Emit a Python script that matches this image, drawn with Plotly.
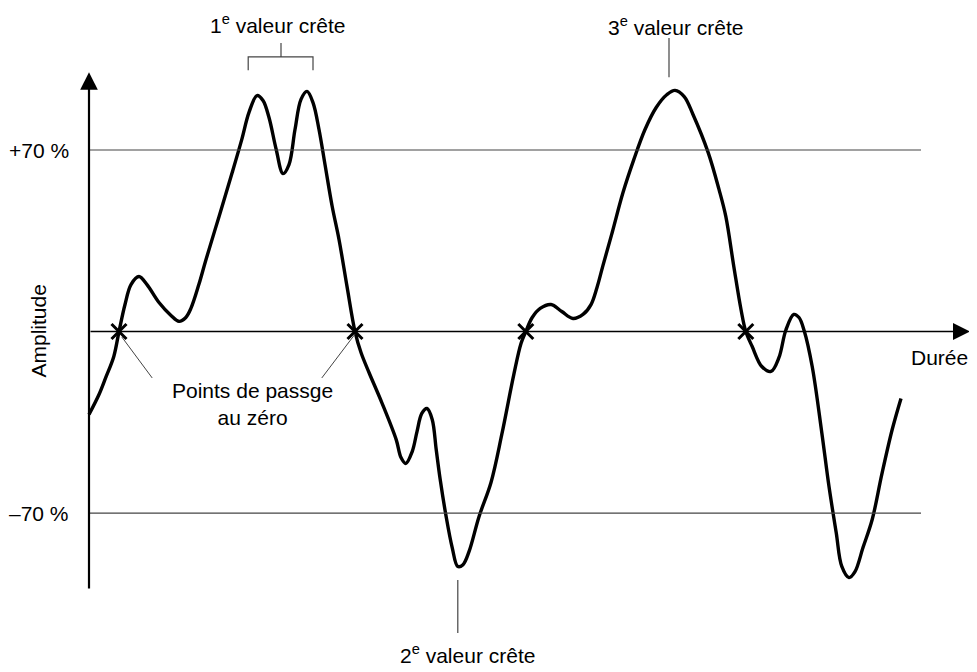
import plotly.graph_objects as go

# signal: time (arbitrary units) / amplitude (%)
duree = [0, 1.25, 2.1, 3.1, 3.75, 4.5, 5.25, 6.25, 7.25, 8.75,
         10.25, 11.25, 12.1, 12.75, 13.75, 14.6, 16.25, 17.9, 19.1, 20,
         21, 21.75, 22.5, 23.4, 24.25, 25, 25.75, 26.5, 27.25, 28,
         28.75, 29.5, 30.4, 31.25, 32.25, 33.25, 34, 35, 36.6, 38.4,
         39, 39.6, 40.4, 41, 41.6, 42.25, 42.9, 43.4, 43.9, 44.6,
         45.4, 46.1, 46.75, 47.5, 48.75, 50.25, 51.6, 53.1, 54, 54.6,
         55.4, 56.4, 57.75, 59.1, 60.5, 61.75, 62.75, 63.5, 64.25, 65.4,
         66.75, 68.1, 69.5, 70.9, 72.25, 73.25, 74.4, 75.5, 77.4, 78.75,
         79.6, 80.6, 81.5, 82.1, 82.9, 84.1, 85.25, 86.25, 87.1, 88.1,
         88.75, 89.4, 90.4, 91.6, 92.5, 93.4, 94.1, 95, 95.75, 96.75,
         97.9, 99.1, 100.4, 101.5]

amplitude = [-32.0, -24.3, -17.7, -9.6, 0, 10.4, 18.1, 21.2, 18.1, 11.2,
             6.2, 3.9, 5.4, 9.0, 18.3, 27.5, 44.3, 61.3, 74.1, 84.5,
             91.0, 89.1, 82.5, 70.2, 60.9, 64.4, 77.9, 89.5, 92.6, 88.3,
             77.9, 64.4, 48.2, 35.5, 17.4, 0, -8.1, -15.8, -27.4, -41.7,
             -48.6, -50.9, -46.3, -38.6, -31.6, -29.7, -33.9, -45.5, -57.1, -70.6,
             -83.3, -90.6, -89.9, -84.9, -71.4, -58.2, -39.7, -16.6, -4.6, 0,
             5.4, 8.9, 10.4, 7.7, 5.0, 6.6, 10.4, 17.0, 25.5, 38.2,
             53.6, 66.3, 77.9, 86.4, 91.4, 93.0, 90.6, 83.7, 69.0, 54.8,
             44.4, 25.1, 8.5, 0, -5.8, -13.5, -15.4, -10.0, 0.5, 6.6,
             5.4, 0.3, -13.5, -39.0, -59.8, -77.5, -90.6, -94.9, -92.6, -83.3,
             -72.5, -55.1, -37.8, -25.8]

# zero crossings marked with an x
passages_zero = [3.75, 33.25, 54.6, 82.1]

# threshold levels
seuils = [70, -70]
seuil_labels = ["+70 %", "\u201370 %"]

FONT = "Arial, Liberation Sans, sans-serif"
TXT = dict(family=FONT, size=21, color="black")
GREY = "#444444"

fig = go.Figure()

fig.add_trace(go.Scatter(x=duree, y=amplitude, mode="lines",
                         line=dict(color="black", width=3.4, shape="spline", smoothing=1.0),
                         hoverinfo="skip"))

fig.add_trace(go.Scatter(x=passages_zero, y=[0] * len(passages_zero), mode="markers",
                         marker=dict(symbol="x-thin", size=15, line=dict(color="black", width=3)),
                         hoverinfo="skip"))

# +/-70 % lines and labels
for s, lab in zip(seuils, seuil_labels):
    fig.add_shape(type="line", x0=0, x1=104, y0=s, y1=s, line=dict(color=GREY, width=1.2))
    fig.add_annotation(x=-2.25, y=s, text=lab, showarrow=False, xanchor="right",
                       yanchor="middle", font=TXT)

# axes drawn as arrows
fig.add_annotation(x=0, y=100, ax=0, ay=-99.7, axref="x", ayref="y", text="",
                   showarrow=True, arrowhead=2, arrowsize=1.6, arrowwidth=2.2, arrowcolor="black")
fig.add_annotation(x=110.1, y=0, ax=0, ay=0, axref="x", ayref="y", text="",
                   showarrow=True, arrowhead=2, arrowsize=2.1, arrowwidth=1.6, arrowcolor="black")

fig.add_annotation(x=-6.25, y=0, text="Amplitude", textangle=-90, showarrow=False,
                   xanchor="center", yanchor="middle", font=TXT)
fig.add_annotation(x=110.1, y=-10.2, text="Durée", showarrow=False,
                   xanchor="right", yanchor="middle", font=TXT)

# peak labels
fig.add_annotation(x=23.5, y=118.6, text="1<sup>e</sup> valeur crête", showarrow=False,
                   xanchor="center", yanchor="middle", font=TXT)
fig.add_annotation(x=73.25, y=117.8, text="3<sup>e</sup> valeur crête", showarrow=False,
                   xanchor="center", yanchor="middle", font=TXT)
fig.add_annotation(x=47.25, y=-124.4, text="2<sup>e</sup> valeur crête", showarrow=False,
                   xanchor="center", yanchor="middle", font=TXT)

# bracket over the double peak
fig.add_shape(type="path", path="M 19.9,100.8 L 19.9,105.9 L 28,105.9 L 28,100.8",
              line=dict(color=GREY, width=1.2))
fig.add_shape(type="line", x0=24, x1=24, y0=105.9, y1=111.3, line=dict(color=GREY, width=1.2))
fig.add_shape(type="line", x0=72.5, x1=72.5, y0=98.1, y1=113.2, line=dict(color=GREY, width=1.2))
fig.add_shape(type="line", x0=46.1, x1=46.1, y0=-95.8, y1=-116.3, line=dict(color=GREY, width=1.2))

# zero crossing callout
fig.add_annotation(x=20.4, y=-28.1, text="Points de passge<br>au zéro", showarrow=False,
                   xanchor="center", yanchor="middle", font=TXT)
fig.add_shape(type="line", x0=4.1, y0=-2.1, x1=7.9, y1=-17.9, line=dict(color=GREY, width=1))
fig.add_shape(type="line", x0=33.25, y0=-1.0, x1=29.1, y1=-17.9, line=dict(color=GREY, width=1))

# page body has an 8px margin, so the figure is 8px smaller and the ranges start 8px in
fig.update_layout(
    width=969, height=664,
    margin=dict(l=0, r=0, t=0, b=0),
    paper_bgcolor="white", plot_bgcolor="white",
    showlegend=False,
    xaxis=dict(range=[-10.125, 111], visible=False, fixedrange=True),
    yaxis=dict(range=[-131.3, 124.76], visible=False, fixedrange=True),
)

fig.write_html("out.html")
